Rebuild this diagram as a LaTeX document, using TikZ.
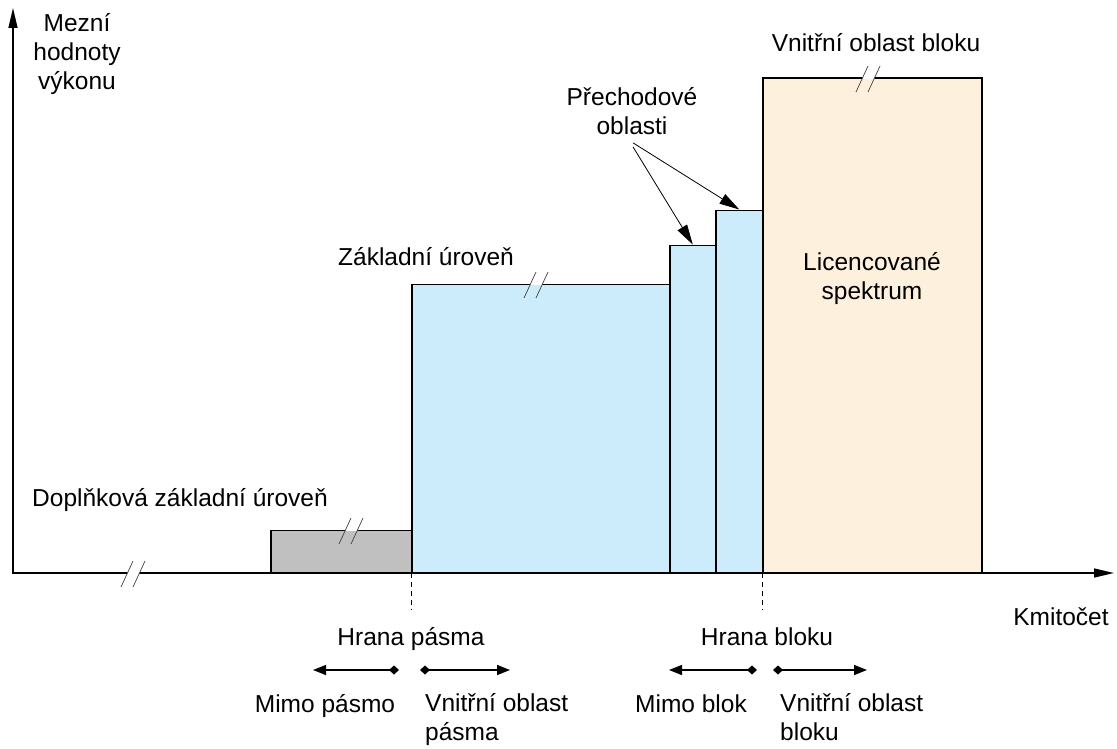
\documentclass[tikz,border=0pt]{standalone}
\usepackage{fontspec}
\setmainfont{Liberation Sans}
\usetikzlibrary{positioning, arrows.meta}
\definecolor{bandblue}{RGB}{204,236,252}
\definecolor{bandbeige}{RGB}{253,240,221}
\definecolor{bandgrey}{RGB}{192,192,192}
\tikzset{%
  powerbox/.style  = {draw, line width = 1.5pt, rectangle, inner sep = 0pt,
    anchor = south west},
  axisline/.style  = {line width = 1.5pt, -{Triangle[length = 20pt, width = 9pt]}},
  rangearrow/.style = {line width = 1.5pt,
    {Diamond[length = 10pt, width = 9pt]}-{Triangle[length = 13pt, width = 10pt]}},
  pointer/.style   = {line width = 0.8pt, -{Triangle[length = 20pt, width = 11pt]}},
  bandedge/.style  = {line width = 0.9pt, dash pattern = on 5pt off 4pt},
  txt/.style       = {font = \fontsize{24.5}{29}\selectfont, inner sep = 0pt,
    align = center} % Labels
}
% break mark: x, y, fill below the line
\newcommand{\cutmark}[3]{%
  \fill[white] (#1-6,#2) -- (#1+6,#2) -- (#1+7.4,#2-3) -- (#1-4.6,#2-3) -- cycle;
  \fill[#3] (#1-6,#2) -- (#1+6,#2) -- (#1+4.6,#2+3) -- (#1-7.4,#2+3) -- cycle;
  \draw[line width = 0.7pt, black!75] (#1-12,#2+13) -- (#1,#2-13)
    (#1,#2+13) -- (#1+12,#2-13);
}

\begin{document}
\begin{tikzpicture}[x = 1pt, y = -1pt]
\useasboundingbox (0,0) rectangle (1117,749);
%power level blocks
\node [powerbox, fill = bandgrey, minimum width = 141pt, minimum height = 42pt] (supp) at (270,573) {};
\node [powerbox, fill = bandblue, minimum width = 258pt, minimum height = 288pt] (base) at (411,573) {};
\node [powerbox, fill = bandblue, minimum width = 46pt, minimum height = 327pt] (step1) at (669,573) {};
\node [powerbox, fill = bandblue, minimum width = 47pt, minimum height = 362pt] (step2) at (715,573) {};
\node [powerbox, fill = bandbeige, minimum width = 219pt, minimum height = 494pt] (lic) at (762,573) {};
%axes
\coordinate (orig) at (13,573);
\coordinate (ytop) at (13,8);
\coordinate (xend) at (1114,573);
\draw[axisline] ([yshift = -1pt]orig) -- (ytop);
\draw[axisline] ([xshift = -0.75pt]orig) -- (xend);
%break marks
\cutmark{133}{574}{white}
\cutmark{351}{531}{bandgrey}
\cutmark{536}{285}{bandblue}
\cutmark{868}{79}{bandbeige}
%labels
\node[txt] (ylabel) at (77,54) {Mezní\\hodnoty\\výkonu};
\node[txt, anchor = base] (xlabel) at (1061,625) {Kmitočet};
\node[txt, anchor = base west] (lblSupp) at (32,506) {Doplňková základní úroveň};
\node[txt, anchor = base west] (lblBase) at (338,265) {Základní úroveň};
\node[txt] (lblTrans) at (632,111) {Přechodové\\oblasti};
\node[txt, anchor = base] (lblInner) at (876,52) {Vnitřní oblast bloku};
\node[txt] (lblLic) at (872,279) {Licencované\\spektrum};
\draw[pointer] ([xshift = 1pt, yshift = -12pt]lblTrans.south) -- (step1.north);
\draw[pointer] ([xshift = 1pt, yshift = -8pt]lblTrans.south) -- (step2.north);
%edges
\draw[bandedge] (base.south west) -- ++(0,37);
\draw[bandedge] (lic.south west) -- ++(0,37);
\node[txt, anchor = base] (bandEdge) at (411,645) {Hrana pásma};
\node[txt, anchor = base] (blockEdge) at (767,645) {Hrana bloku};
\coordinate (bandOut) at (313,670);
\coordinate (bandOutD) at (399,670);
\coordinate (bandInD) at (420,670);
\coordinate (bandIn) at (510,670);
\coordinate (blockOut) at (669,670);
\coordinate (blockOutD) at (757,670);
\coordinate (blockInD) at (773,670);
\coordinate (blockIn) at (867,670);
\draw[rangearrow] (bandOutD) -- (bandOut);
\draw[rangearrow] (bandInD) -- (bandIn);
\draw[rangearrow] (blockOutD) -- (blockOut);
\draw[rangearrow] (blockInD) -- (blockIn);
\node[txt, anchor = base] (oob) at (325,712) {Mimo pásmo};
\node[txt, align = left, anchor = north west] (inb) at (425,693) {Vnitřní oblast\\pásma};
\node[txt, anchor = base] (oobk) at (691,712) {Mimo blok};
\node[txt, align = left, anchor = north west] (inbk) at (780,693) {Vnitřní oblast\\bloku};
\end{tikzpicture}
\end{document}
